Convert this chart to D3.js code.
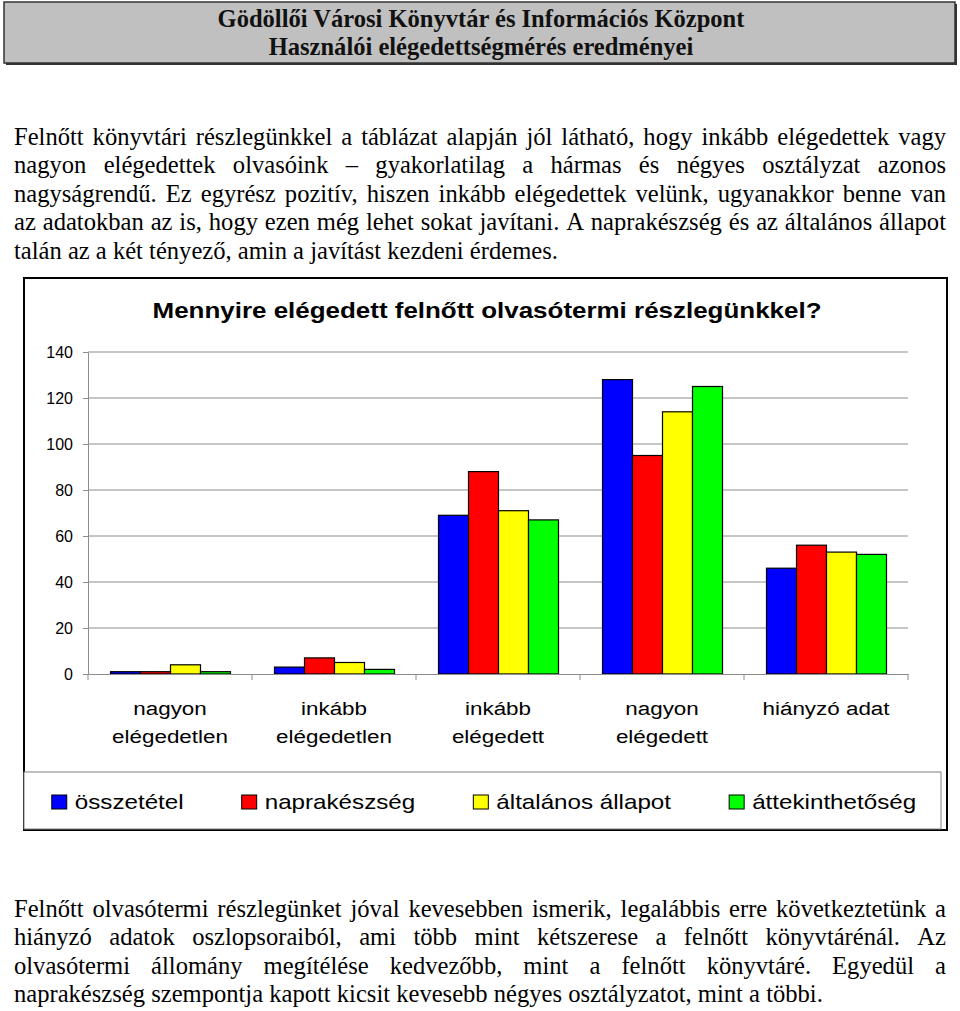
<!DOCTYPE html>
<html>
<head>
<meta charset="utf-8">
<script src="https://cdn.jsdelivr.net/npm/d3@7"></script>
<style>
html,body{margin:0;padding:0;background:#fff;}
svg{display:block;}
.serif{font-family:"Liberation Serif","Times New Roman",Times,serif;}
.sans{font-family:"Liberation Sans",Arial,Helvetica,sans-serif;}
</style>
</head>
<body>
<script>
// ---- data ----
const headerLines = ["Gödöllői Városi Könyvtár és Információs Központ", "Használói elégedettségmérés eredményei"];
const topParagraph = [
  "Felnőtt könyvtári részlegünkkel a táblázat alapján jól látható, hogy inkább elégedettek vagy",
  "nagyon elégedettek olvasóink – gyakorlatilag a hármas és négyes osztályzat azonos",
  "nagyságrendű. Ez egyrész pozitív, hiszen inkább elégedettek velünk, ugyanakkor benne van",
  "az adatokban az is, hogy ezen még lehet sokat javítani. A naprakészség és az általános állapot",
  "talán az a két tényező, amin a javítást kezdeni érdemes."
];
const bottomParagraph = [
  "Felnőtt olvasótermi részlegünket jóval kevesebben ismerik, legalábbis erre következtetünk a",
  "hiányzó adatok oszlopsoraiból, ami több mint kétszerese a felnőtt könyvtárénál. Az",
  "olvasótermi állomány megítélése kedvezőbb, mint a felnőtt könyvtáré. Egyedül a",
  "naprakészség szempontja kapott kicsit kevesebb négyes osztályzatot, mint a többi."
];
const chartTitle = "Mennyire elégedett felnőtt olvasótermi részlegünkkel?";
const categories = ["nagyon\nelégedetlen", "inkább\nelégedetlen", "inkább\nelégedett", "nagyon\nelégedett", "hiányzó adat"];
const seriesNames = ["összetétel", "naprakészség", "általános állapot", "áttekinthetőség"];
const seriesColors = ["#0000ff", "#ff0000", "#ffff00", "#00ff00"];
const osszetetel = [1, 3, 69, 128, 46];
const naprakeszseg = [1, 7, 88, 95, 56];
const altalanosAllapot = [4, 5, 71, 114, 53];
const attekinthetoseg = [1, 2, 67, 125, 52];
const yTicks = [0, 20, 40, 60, 80, 100, 120, 140];

const seriesValues = [osszetetel, naprakeszseg, altalanosAllapot, attekinthetoseg];

const W = 960, H = 1011;
const svg = d3.select("body").append("svg").attr("width", W).attr("height", H);

// ---- helpers ----
function measure(text, cls, size, weight) {
  const t = svg.append("text").attr("class", cls).style("font-size", size + "px")
    .style("font-weight", weight || "normal").text(text);
  const w = t.node().getComputedTextLength();
  t.remove();
  return w;
}

function paragraph(lines, x0, x1, y0, lh, size) {
  const g = svg.append("g").attr("class", "serif").style("font-size", size + "px").attr("fill", "#000");
  lines.forEach((line, i) => {
    const yy = y0 + i * lh;
    if (i === lines.length - 1) {
      g.append("text").attr("x", x0).attr("y", yy).text(line);
      return;
    }
    const words = line.split(" ");
    const widths = words.map(w => measure(w, "serif", size));
    const gap = (x1 - x0 - d3.sum(widths)) / (words.length - 1);
    let x = x0;
    words.forEach((w, j) => {
      g.append("text").attr("x", x).attr("y", yy).text(w);
      x += widths[j] + gap;
    });
  });
}

// ---- header ----
svg.append("rect").attr("x", 6).attr("y", 4).attr("width", 951).attr("height", 61).attr("fill", "#333");
svg.append("rect").attr("x", 4).attr("y", 2).attr("width", 951).attr("height", 61)
  .attr("fill", "#c0c0c0").attr("stroke", "#333").attr("stroke-width", 1.5);
const hSize = 20 * 527 / measure(headerLines[0], "serif", 20, "bold");
headerLines.forEach((t, i) => {
  svg.append("text").attr("class", "serif").attr("x", 481).attr("y", 27 + i * 28).attr("text-anchor", "middle")
    .style("font-weight", "bold").style("font-size", hSize + "px").attr("fill", "#111").text(t);
});

// ---- paragraphs ----
const pSize = 20 * 544 / measure(topParagraph[4], "serif", 20);
paragraph(topParagraph, 14, 946, 145, 28.4, pSize);
paragraph(bottomParagraph, 14, 946, 917, 28.4, pSize);

// ---- chart frame ----
svg.append("rect").attr("x", 24).attr("y", 278).attr("width", 923).attr("height", 552)
  .attr("fill", "#fff").attr("stroke", "#000").attr("stroke-width", 2);
svg.append("rect").attr("x", 24).attr("y", 772).attr("width", 917).attr("height", 57)
  .attr("fill", "#fff").attr("stroke", "#808080").attr("stroke-width", 1);

const sx = 1.18; // the chart's text is horizontally stretched
svg.append("text").attr("class", "sans").attr("transform", `translate(487,318) scale(${sx},1)`)
  .attr("text-anchor", "middle").style("font-weight", "bold").style("font-size", "22px").attr("fill", "#000")
  .text(chartTitle);

// ---- scales ----
const plot = {left: 88, right: 908, top: 352, bottom: 674};
const y = d3.scaleLinear().domain([0, 140]).range([plot.bottom, plot.top]);
const x0 = d3.scaleBand().domain(categories).range([plot.left, plot.right]).padding(0);
const x1 = d3.scaleBand().domain(seriesNames).range([22.5, x0.bandwidth() - 21.5]).padding(0);

// gridlines
svg.append("g").selectAll("line").data(yTicks.filter(d => d > 0)).join("line")
  .attr("x1", plot.left).attr("x2", plot.right)
  .attr("y1", d => y(d)).attr("y2", d => y(d))
  .attr("stroke", "#8c8c8c").attr("stroke-width", 1);

// y axis
const yAxis = svg.append("g").attr("transform", `translate(${plot.left},0)`)
  .call(d3.axisLeft(y).tickValues(yTicks).tickSize(5).tickPadding(10).tickSizeOuter(0));
yAxis.select(".domain").attr("stroke", "#8c8c8c");
yAxis.selectAll(".tick line").attr("stroke", "#8c8c8c");
yAxis.selectAll(".tick text").attr("class", "sans").style("font-size", "16px").attr("fill", "#000");

// bars
const barData = [];
categories.forEach((c, i) => seriesNames.forEach((s, j) => barData.push({c, s, v: seriesValues[j][i], color: seriesColors[j]})));
svg.append("g").selectAll("rect").data(barData).join("rect")
  .attr("x", d => x0(d.c) + x1(d.s))
  .attr("width", x1.bandwidth())
  .attr("y", d => y(d.v))
  .attr("height", d => y(0) - y(d.v))
  .attr("fill", d => d.color)
  .attr("stroke", "#000").attr("stroke-width", 1.2);

// x axis
const xAxis = svg.append("g").attr("transform", `translate(0,${plot.bottom})`)
  .call(d3.axisBottom(x0).tickSize(0).tickFormat(""));
xAxis.select(".domain").attr("stroke", "#8c8c8c");
const bounds = categories.map(c => x0(c)).concat([plot.right]);
svg.append("g").selectAll("line").data(bounds).join("line")
  .attr("x1", d => d).attr("x2", d => d).attr("y1", plot.bottom).attr("y2", plot.bottom + 6)
  .attr("stroke", "#8c8c8c");

// category labels
categories.forEach(c => {
  c.split("\n").forEach((line, i) => {
    svg.append("text").attr("class", "sans")
      .attr("transform", `translate(${x0(c) + x0.bandwidth() / 2},${715 + i * 28}) scale(${sx},1)`)
      .attr("text-anchor", "middle").style("font-size", "19px").attr("fill", "#000").text(line);
  });
});

// legend
const legSize = 20.5;
const items = seriesNames.map((s, i) => ({s, color: seriesColors[i], w: measure(s, "sans", legSize) * sx}));
const gapL = 58;
const totalW = d3.sum(items, d => 23 + d.w) + gapL * (items.length - 1);
let lx = 484 - totalW / 2;
const leg = svg.append("g");
items.forEach(it => {
  leg.append("rect").attr("x", lx).attr("y", 795).attr("width", 15).attr("height", 14)
    .attr("fill", it.color).attr("stroke", "#000").attr("stroke-width", 1);
  leg.append("text").attr("class", "sans").attr("transform", `translate(${lx + 23},809) scale(${sx},1)`)
    .style("font-size", legSize + "px").attr("fill", "#000").text(it.s);
  lx += 23 + it.w + gapL;
});
</script>
</body>
</html>
